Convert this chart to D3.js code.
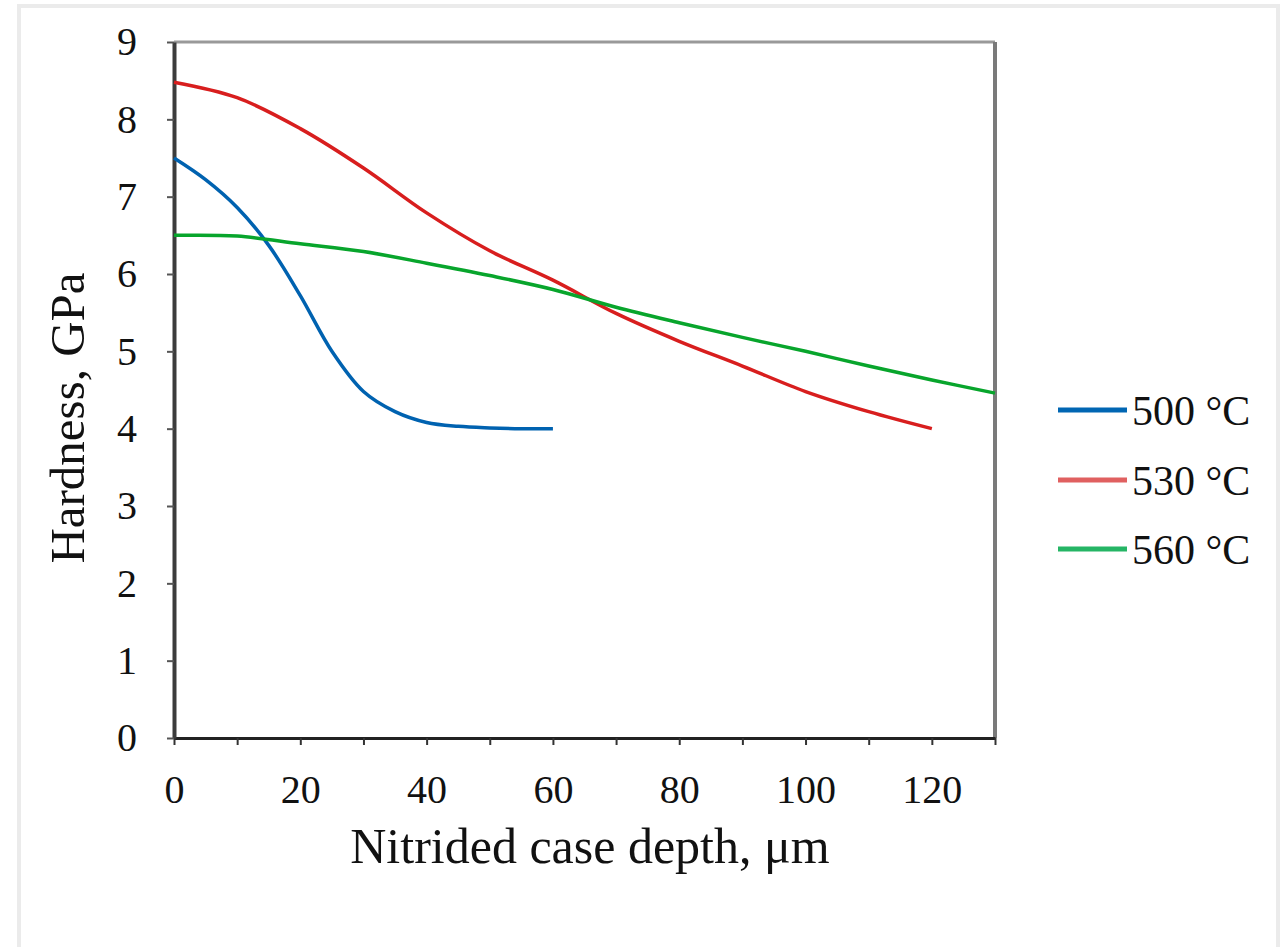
<!DOCTYPE html>
<html>
<head>
<meta charset="utf-8">
<script src="https://cdn.jsdelivr.net/npm/d3@7"></script>
<style>
  html, body { margin: 0; padding: 0; background: #fff; }
  svg { display: block; }
  text { font-family: "Liberation Serif", "Times New Roman", serif; fill: #111; }
</style>
</head>
<body>
<svg id="chart" width="1281" height="947"></svg>
<script>
// ---- data ----
const seriesNames = ["500 °C", "530 °C", "560 °C"];
const depth500 = [0, 5, 10, 15, 20, 25, 30, 35, 40, 45, 50, 55, 60];
const hard500  = [7.5, 7.22, 6.86, 6.37, 5.72, 5.0, 4.48, 4.22, 4.08, 4.03, 4.01, 4.0, 4.0];
const depth530 = [0, 10, 20, 30, 40, 50, 60, 70, 80, 90, 100, 110, 120];
const hard530  = [8.48, 8.28, 7.88, 7.37, 6.79, 6.3, 5.92, 5.49, 5.13, 4.81, 4.48, 4.22, 4.0];
const depth560 = [0, 10, 20, 30, 40, 50, 60, 70, 80, 90, 100, 110, 120, 130];
const hard560  = [6.5, 6.49, 6.39, 6.29, 6.14, 5.98, 5.8, 5.57, 5.37, 5.18, 5.0, 4.81, 4.63, 4.46];
const xTickValues = [0, 20, 40, 60, 80, 100, 120];
const xMinorTicks = [0, 10, 20, 30, 40, 50, 60, 70, 80, 90, 100, 110, 120, 130];
const yTickValues = [0, 1, 2, 3, 4, 5, 6, 7, 8, 9];
const xTitle = "Nitrided case depth, μm";
const yTitle = "Hardness, GPa";
const colors = ["#0062b0", "#d81e1e", "#08a52c"];
const legendColors = ["#0066b3", "#e06060", "#25b565"];

const svg = d3.select("#chart");

// outer frame
svg.append("rect").attr("x", 19).attr("y", 6).attr("width", 1259).attr("height", 960)
  .attr("fill", "#fff").attr("stroke", "#ebebeb").attr("stroke-width", 4);

const pLeft = 174, pRight = 995, pTop = 42, pBottom = 738;
const x = d3.scaleLinear().domain([0, 130]).range([pLeft, pRight]);
const y = d3.scaleLinear().domain([0, 9]).range([pBottom, pTop]);

// top & right borders
svg.append("line").attr("x1", pLeft).attr("x2", pRight).attr("y1", pTop).attr("y2", pTop)
  .attr("stroke", "#999").attr("stroke-width", 3);
svg.append("line").attr("x1", pRight).attr("x2", pRight).attr("y1", pTop).attr("y2", pBottom)
  .attr("stroke", "#7a7a7a").attr("stroke-width", 4);

// x axis
const xAxisMinor = d3.axisBottom(x).tickValues(xMinorTicks).tickSize(7).tickFormat("").tickSizeOuter(0);
const gxm = svg.append("g").attr("transform", `translate(0,${pBottom})`).call(xAxisMinor);
gxm.select(".domain").attr("stroke", "#222").attr("stroke-width", 3);
gxm.selectAll(".tick line").attr("stroke", "#333").attr("stroke-width", 2);

const xAxis = d3.axisBottom(x).tickValues(xTickValues).tickSize(0).tickPadding(37).tickFormat(d3.format("d"));
const gx = svg.append("g").attr("transform", `translate(0,${pBottom})`).call(xAxis);
gx.select(".domain").remove();
gx.selectAll(".tick text").attr("font-size", 40).attr("font-family", "Liberation Serif").attr("fill", "#111");

// y axis
const yAxis = d3.axisLeft(y).tickValues(yTickValues).tickSize(7).tickPadding(30).tickSizeOuter(0).tickFormat(d3.format("d"));
const gy = svg.append("g").attr("transform", `translate(${pLeft},0)`).call(yAxis);
gy.select(".domain").attr("stroke", "#3c3c3c").attr("stroke-width", 4);
gy.selectAll(".tick line").attr("stroke", "#555").attr("stroke-width", 2);
gy.selectAll(".tick text").attr("font-size", 40).attr("font-family", "Liberation Serif").attr("fill", "#111");

// titles
svg.append("text").attr("x", 590).attr("y", 863)
  .attr("text-anchor", "middle").attr("font-size", 50).text(xTitle);
svg.append("text").attr("transform", `translate(84,418) rotate(-90)`)
  .attr("text-anchor", "middle").attr("font-size", 49).text(yTitle);

// lines
const series = [
  { name: seriesNames[0], xs: depth500, ys: hard500 },
  { name: seriesNames[1], xs: depth530, ys: hard530 },
  { name: seriesNames[2], xs: depth560, ys: hard560 }
];
const line = d3.line().x(d => x(d[0])).y(d => y(d[1])).curve(d3.curveCatmullRom.alpha(0.5));
series.forEach((s, i) => {
  const pts = s.xs.map((v, j) => [v, s.ys[j]]);
  svg.append("path").datum(pts).attr("d", line)
    .attr("fill", "none").attr("stroke", colors[i]).attr("stroke-width", 3.5);
});

// legend
const legY = [410, 480, 549];
series.forEach((s, i) => {
  svg.append("line").attr("x1", 1058).attr("x2", 1127).attr("y1", legY[i]).attr("y2", legY[i])
    .attr("stroke", legendColors[i]).attr("stroke-width", 5);
  svg.append("text").attr("x", 1132).attr("y", legY[i] + 15).attr("font-size", 42).text(s.name);
});
</script>
</body>
</html>
